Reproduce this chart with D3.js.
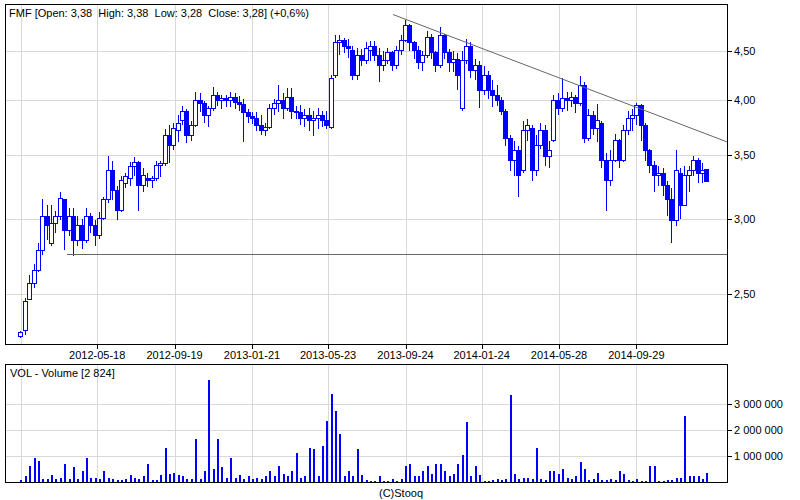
<!DOCTYPE html>
<html>
<head>
<meta charset="utf-8">
<script src="https://cdn.jsdelivr.net/npm/d3@7"></script>
<style>
body { margin: 0; background: #fff; }
svg text { font-family: "Liberation Sans", Arial, sans-serif; font-size: 11px; fill: #000; }
</style>
</head>
<body>
<div id="chart"></div>
<script>
// weekly candles (Mondays)
var weeks = d3.timeMonday.range(new Date(2012, 0, 16), new Date(2015, 0, 20));

var open = [2.26,2.29,2.47,2.57,2.65,2.78,3.02,2.83,2.97,3.02, 3.14,2.92,3.02,2.85,2.95,2.85,3.02,2.95,2.88,3.00,
  3.14,3.37,3.21,3.06,3.27,3.31,3.40,3.44,3.25,3.31, 3.29,3.31,3.41,3.43,3.67,3.58,3.71,3.80,3.89,3.67,
  3.76,3.99,3.96,3.85,3.91,4.04,3.99,4.01,3.99,4.02, 3.97,3.95,3.88,3.84,3.82,3.76,3.71,3.74,3.91,3.96,
  3.99,3.91,4.02,3.89,3.88,3.82,3.85,3.80,3.82,3.85, 3.80,3.74,4.24,4.59,4.61,4.55,4.50,4.24,4.45,4.39,
  4.50,4.55,4.45,4.34,4.39,4.48,4.34,4.50,4.61,4.78, 4.59,4.50,4.37,4.45,4.64,4.48,4.34,4.67,4.48,4.37,
  4.41,3.91,4.39,4.55,4.29,4.34,4.09,4.24,4.09,4.04, 3.99,3.89,3.64,3.45,3.54,3.37,3.71,3.73,3.37,3.58,
  3.71,3.49,3.62,3.99,3.91,4.01,3.99,4.02,3.96,4.14, 3.64,3.85,3.73,3.78,3.45,3.29,3.45,3.62,3.45,3.71,
  3.82,3.85,3.94,3.76,3.54,3.41,3.33,3.35,3.25,3.14, 2.99,3.35,3.10,3.33,3.37,3.45,3.35,3.38];
var high = [2.29,2.48,2.62,2.69,2.83,3.15,3.10,3.10,3.06,3.20, 3.14,3.08,3.08,3.02,3.00,3.08,3.04,2.99,3.05,3.16,
  3.49,3.45,3.25,3.33,3.35,3.44,3.48,3.45,3.39,3.35, 3.33,3.45,3.45,3.73,3.76,3.78,3.85,3.94,3.91,3.80,
  4.07,4.06,3.99,3.94,4.12,4.07,4.04,4.04,4.07,4.06, 4.03,4.01,3.91,3.88,3.88,3.85,3.78,3.96,4.01,4.14,
  4.06,4.11,4.11,3.94,3.95,3.91,3.92,3.89,3.92,3.89, 3.89,4.24,4.67,4.67,4.64,4.63,4.55,4.53,4.52,4.59,
  4.61,4.61,4.53,4.50,4.53,4.50,4.55,4.67,4.85,4.80, 4.61,4.55,4.50,4.72,4.69,4.50,4.76,4.69,4.52,4.50,
  4.48,4.50,4.63,4.59,4.41,4.39,4.34,4.29,4.19,4.14, 4.02,3.91,3.67,3.62,3.58,3.80,3.82,3.76,3.67,3.78,
  3.76,3.62,4.04,4.06,4.21,4.07,4.07,4.04,4.23,4.17, 3.91,3.89,3.96,3.80,3.52,3.54,3.68,3.64,3.76,3.89,
  3.91,3.97,3.96,3.78,3.55,3.45,3.41,3.39,3.29,3.23, 3.54,3.39,3.41,3.41,3.49,3.47,3.43,3.38];
var low = [2.25,2.27,2.47,2.54,2.64,2.75,2.85,2.81,2.90,2.99, 2.78,2.88,2.74,2.81,2.79,2.83,2.90,2.81,2.86,2.99,
  3.12,3.14,2.99,3.05,3.23,3.25,3.33,3.06,3.20,3.24, 3.23,3.29,3.32,3.41,3.43,3.54,3.61,3.76,3.60,3.62,
  3.74,3.88,3.78,3.74,3.89,3.94,3.91,3.93,3.93,3.91, 3.89,3.61,3.78,3.77,3.71,3.67,3.66,3.73,3.85,3.88,
  3.82,3.89,3.82,3.82,3.76,3.74,3.71,3.66,3.73,3.74, 3.73,3.73,4.21,4.45,4.48,4.42,4.19,4.19,4.34,4.36,
  4.39,4.39,4.17,4.29,4.36,4.29,4.31,4.45,4.59,4.50, 4.41,4.31,4.29,4.42,4.41,4.27,4.32,4.41,4.27,4.27,
  4.09,3.89,4.36,4.21,4.19,3.92,4.04,4.01,3.93,3.94, 3.85,3.58,3.37,3.33,3.16,3.35,3.62,3.29,3.33,3.55,
  3.41,3.39,3.61,3.85,3.88,3.89,3.93,3.87,3.94,3.60, 3.62,3.67,3.61,3.39,3.06,3.25,3.44,3.39,3.44,3.67,
  3.71,3.76,3.62,3.45,3.35,3.20,3.25,3.17,3.02,2.83, 2.95,3.00,3.10,3.20,3.33,3.27,3.27,3.28];
var close = [2.28,2.46,2.57,2.65,2.78,3.02,2.95,2.97,3.02,3.15, 2.92,3.02,2.85,2.95,2.85,3.02,2.95,2.88,3.00,3.14,
  3.37,3.21,3.06,3.29,3.32,3.40,3.44,3.25,3.33,3.29, 3.31,3.41,3.43,3.67,3.58,3.73,3.78,3.89,3.67,3.76,
  3.99,3.96,3.85,3.91,4.04,3.99,4.01,3.99,4.02,3.97, 3.95,3.88,3.84,3.82,3.76,3.71,3.74,3.91,3.96,3.99,
  3.91,4.02,3.89,3.88,3.82,3.85,3.80,3.82,3.85,3.80, 3.76,4.21,4.59,4.61,4.55,4.52,4.24,4.45,4.39,4.52,
  4.55,4.45,4.34,4.39,4.48,4.34,4.50,4.61,4.78,4.59, 4.50,4.37,4.45,4.64,4.48,4.34,4.67,4.48,4.37,4.41,
  4.24,4.39,4.55,4.29,4.34,4.09,4.24,4.09,4.04,3.99, 3.89,3.64,3.45,3.54,3.33,3.71,3.76,3.37,3.58,3.71,
  3.49,3.54,3.99,3.91,4.01,3.99,4.02,3.96,4.14,3.64, 3.85,3.73,3.80,3.45,3.29,3.45,3.62,3.45,3.71,3.82,
  3.85,3.94,3.76,3.54,3.41,3.33,3.35,3.25,3.14,2.99, 3.37,3.10,3.33,3.37,3.45,3.35,3.37,3.28];
// volume, thousands of shares (largest day of each week)
var volume = [50,200,600,910,780,100,80,250,100,150, 670,100,550,100,400,910,150,150,100,400,
  150,100,50,50,100,250,150,100,200,670, 50,50,250,1310,300,350,250,200,100,100,
  1650,100,400,3960,500,1650,550,150,910,150, 250,100,200,100,150,100,200,400,200,600,
  300,200,400,1100,150,200,1310,1250,200,1400, 2350,3410,2740,1850,200,400,200,1250,250,50,
  30,30,200,30,30,100,30,100,600,670, 200,200,400,600,300,700,670,400,200,300,
  670,1050,2300,200,600,250,30,30,50,100, 50,100,3370,300,100,150,150,100,1310,100,
  50,400,400,300,500,150,100,200,750,500, 50,100,350,50,50,100,50,400,300,50,
  30,100,30,30,600,620,30,30,50,50, 150,150,2550,200,200,200,100,350];

var tickDates = ["2012-05-18","2012-09-19","2013-01-21","2013-05-23","2013-09-24","2014-01-24","2014-05-28","2014-09-29"];
var firstGrid = "2012-01-17";
var priceTicks = [2.5, 3, 3.5, 4, 4.5];
var volTicks = [1000000, 2000000, 3000000];
var supportLine = [["2012-03-31", 2.75], ["2015-02-22", 2.75]];
var trendLine = [["2013-09-04", 4.91], ["2015-02-22", 3.61]];
var title = "FMF [Open: 3,38  High: 3,38  Low: 3,28  Close: 3,28] (+0,6%)";
var volTitle = "VOL - Volume [2 824]";

var parse = d3.timeParse("%Y-%m-%d");
var pl = d3.formatLocale({decimal: ",", thousands: " ", grouping: [3], currency: ["", ""]});
var fmtPrice = pl.format(".2f"), fmtVol = pl.format(",.0f");

var L = 5.5, R = 727.5, pTop = 4.5, pBot = 344.5, vTop = 364.5, vBot = 482.5;

var svg = d3.select("#chart").append("svg")
    .attr("width", 800).attr("height", 500);

var x = d3.scaleTime()
    .domain([parse("2011-12-23"), parse("2015-02-22")])
    .range([L, R]);
var y = d3.scaleLog().domain([2.216, 5.03]).range([pBot, pTop]);
var yv = d3.scaleLinear().domain([0, 4550000]).range([481.5, vTop]);

var gridX = [parse(firstGrid)].concat(tickDates.map(parse));
function px(v) { return Math.round(v) + 0.5; }

// clip paths
svg.append("clipPath").attr("id", "clipP").append("rect")
    .attr("x", L).attr("y", pTop).attr("width", R - L).attr("height", pBot - pTop);
svg.append("clipPath").attr("id", "clipV").append("rect")
    .attr("x", L).attr("y", vTop).attr("width", R - L).attr("height", vBot - vTop);

// ---- price panel
var gp = svg.append("g").attr("shape-rendering", "crispEdges");
gp.selectAll(".gx").data(gridX).enter().append("line")
    .attr("x1", function(d) { return px(x(d)); }).attr("x2", function(d) { return px(x(d)); })
    .attr("y1", pTop).attr("y2", pBot)
    .attr("stroke", "#d9d9d9");
gp.selectAll(".gy").data(priceTicks).enter().append("line")
    .attr("x1", L).attr("x2", R)
    .attr("y1", function(d) { return px(y(d)); }).attr("y2", function(d) { return px(y(d)); })
    .attr("stroke", "#d9d9d9");

var candles = gp.append("g").attr("clip-path", "url(#clipP)")
  .selectAll("g").data(weeks).enter().append("g");
candles.append("line")
    .attr("x1", function(d) { return px(x(d)); }).attr("x2", function(d) { return px(x(d)); })
    .attr("y1", function(d, i) { return y(high[i]); })
    .attr("y2", function(d, i) { return y(low[i]); })
    .attr("stroke", "#0000ff");
candles.append("rect")
    .attr("x", function(d) { return Math.round(x(d)) - 1.5; })
    .attr("width", 4)
    .attr("y", function(d, i) { return y(Math.max(open[i], close[i])); })
    .attr("height", function(d, i) { return Math.max(1, Math.abs(y(open[i]) - y(close[i]))); })
    .attr("fill", function(d, i) { return close[i] >= open[i] ? "#fff" : "#0000ff"; })
    .attr("stroke", "#0000ff");

var line = d3.line()
    .x(function(d) { return x(parse(d[0])); })
    .y(function(d) { return y(d[1]); });
var lines = svg.append("g").attr("clip-path", "url(#clipP)");
lines.append("path").attr("d", line(supportLine))
    .attr("fill", "none").attr("stroke", "#666").attr("shape-rendering", "crispEdges");
lines.append("path").attr("d", line(trendLine))
    .attr("fill", "none").attr("stroke", "#666");

svg.append("rect").attr("x", L).attr("y", pTop).attr("width", R - L).attr("height", pBot - pTop)
    .attr("fill", "none").attr("stroke", "#000").attr("shape-rendering", "crispEdges");

// right price axis
var ay = svg.append("g").attr("shape-rendering", "crispEdges");
ay.selectAll("line").data(priceTicks).enter().append("line")
    .attr("x1", R).attr("x2", R + 4)
    .attr("y1", function(d) { return px(y(d)); }).attr("y2", function(d) { return px(y(d)); })
    .attr("stroke", "#000");
ay.selectAll("text").data(priceTicks).enter().append("text")
    .attr("x", 734).attr("y", function(d) { return y(d) + 4; })
    .text(function(d) { return fmtPrice(d); });

// date axis
var ax = svg.append("g");
ax.selectAll("line").data(tickDates.map(parse)).enter().append("line")
    .attr("x1", function(d) { return px(x(d)); }).attr("x2", function(d) { return px(x(d)); })
    .attr("y1", pBot).attr("y2", pBot + 4)
    .attr("stroke", "#000").attr("shape-rendering", "crispEdges");
ax.selectAll("text").data(tickDates).enter().append("text")
    .attr("x", function(d) { return x(parse(d)); }).attr("y", 359)
    .attr("text-anchor", "middle")
    .text(function(d) { return d; });

svg.append("text").attr("x", 9).attr("y", 17)
    .style("white-space", "pre")
    .text(title);

// ---- volume panel
var gv = svg.append("g").attr("shape-rendering", "crispEdges");
gv.selectAll(".gx").data(gridX).enter().append("line")
    .attr("x1", function(d) { return px(x(d)); }).attr("x2", function(d) { return px(x(d)); })
    .attr("y1", vTop).attr("y2", vBot)
    .attr("stroke", "#d9d9d9");
gv.selectAll(".gy").data(volTicks).enter().append("line")
    .attr("x1", L).attr("x2", R)
    .attr("y1", function(d) { return px(yv(d)); }).attr("y2", function(d) { return px(yv(d)); })
    .attr("stroke", "#d9d9d9");
gv.append("g").attr("clip-path", "url(#clipV)")
  .selectAll("rect").data(weeks).enter().append("rect")
    .attr("x", function(d) { return Math.round(x(d)); })
    .attr("width", 2)
    .attr("y", function(d, i) { return yv(volume[i] * 1000); })
    .attr("height", function(d, i) { return yv(0) - yv(volume[i] * 1000) + 1; })
    .attr("fill", "#0000ff");
gv.append("rect").attr("x", L).attr("y", vTop).attr("width", R - L).attr("height", vBot - vTop)
    .attr("fill", "none").attr("stroke", "#000");
gv.selectAll(".tk").data(volTicks).enter().append("line")
    .attr("x1", R).attr("x2", R + 4)
    .attr("y1", function(d) { return px(yv(d)); }).attr("y2", function(d) { return px(yv(d)); })
    .attr("stroke", "#000");
svg.selectAll(".vl").data(volTicks).enter().append("text")
    .attr("x", 734).attr("y", function(d) { return yv(d) + 4; })
    .text(function(d) { return fmtVol(d); });

svg.append("text").attr("x", 10).attr("y", 377).text(volTitle);
svg.append("text").attr("x", 401).attr("y", 497).attr("text-anchor", "middle").text("(C)Stooq");
</script>
</body>
</html>
